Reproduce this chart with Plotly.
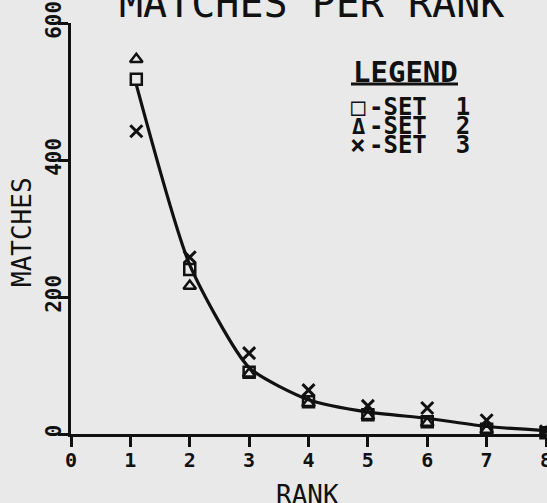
import plotly.graph_objects as go

# ---- data ----
rank_pos = [1.1, 2, 3, 4, 5, 6, 7, 8]          # rank-1 points sit just right of tick 1
set1 = [518, 240, 90, 47, 28, 18, 7, 2]         # squares
set2 = [547, 216, 88, 45, 26, 16, 6, 2]         # triangles
set3 = [442, 258, 118, 64, 41, 38, 20, 4]       # crosses
fit_y = [510, 247, 97, 50, 32, 23, 11, 5]       # drawn curve
x_ticks = [0, 1, 2, 3, 4, 5, 6, 7, 8]
y_ticks = [0, 200, 400, 600]

INK = "#111111"
BG = "#e9e9e9"
MONO = "DejaVu Sans Mono"

fig = go.Figure()
fig.add_trace(go.Scatter(x=rank_pos, y=fit_y, mode="lines", line=dict(color=INK, width=3.2, shape="spline", smoothing=0.6),
                         showlegend=False, cliponaxis=False))
fig.add_trace(go.Scatter(x=rank_pos, y=set1, mode="markers", name="SET 1", cliponaxis=False,
                         marker=dict(symbol="square-open", size=11, color=INK, line=dict(width=2.5, color=INK))))
fig.add_trace(go.Scatter(x=rank_pos, y=set2, mode="markers", name="SET 2", cliponaxis=False,
                         marker=dict(symbol="triangle-up-open", size=11, color=INK, line=dict(width=2.5, color=INK))))
fig.add_trace(go.Scatter(x=rank_pos, y=set3, mode="markers", name="SET 3", cliponaxis=False,
                         marker=dict(symbol="x-thin", size=12, color=INK, line=dict(width=3, color=INK))))

W, H = 547, 503
L, R, T, B = 71, 1, 23, 69
pw, ph = W - L - R, H - T - B


def px(xp):
    return (xp - L) / pw


def py(yp):
    return (H - B - yp) / ph


ann = []
ann.append(dict(text="MATCHES PER RANK", x=px(311), y=py(3), xref="paper", yref="paper",
                xanchor="center", yanchor="middle", showarrow=False,
                font=dict(family=MONO, size=40, color=INK)))
ann.append(dict(text="<b>LEGEND</b>", x=px(405), y=py(72), xref="paper", yref="paper",
                xanchor="center", yanchor="middle", showarrow=False,
                font=dict(family=MONO, size=29, color=INK)))
rows = [("□", "SET 1", 107, 24), ("Δ", "SET 2", 126, 22), ("×", "SET 3", 145, 26)]
for sym, lab, yc, ssz in rows:
    ann.append(dict(text="<b>" + sym + "</b>", x=px(358), y=py(yc), xref="paper", yref="paper",
                    xanchor="center", yanchor="middle", showarrow=False,
                    font=dict(family=MONO, size=ssz, color=INK)))
    ann.append(dict(text="<b>-" + lab.replace(" ", "\u00a0\u00a0") + "</b>", x=px(367), y=py(yc),
                    xref="paper", yref="paper", xanchor="left", yanchor="middle", showarrow=False,
                    font=dict(family=MONO, size=24, color=INK)))
ann.append(dict(text="RANK", x=px(307), y=py(495), xref="paper", yref="paper",
                xanchor="center", yanchor="middle", showarrow=False,
                font=dict(family=MONO, size=26, color=INK)))
ann.append(dict(text="MATCHES", x=px(22), y=py(232), xref="paper", yref="paper", textangle=-90,
                xanchor="center", yanchor="middle", showarrow=False,
                font=dict(family=MONO, size=26, color=INK)))

fig.update_layout(
    width=W, height=H, margin=dict(l=L, r=R, t=T, b=B),
    paper_bgcolor=BG, plot_bgcolor=BG, showlegend=False,
    annotations=ann,
    shapes=[dict(type="line", xref="paper", yref="paper", x0=px(351), x1=px(458), y0=py(84), y1=py(84),
                 line=dict(color=INK, width=3))],
    xaxis=dict(range=[0, 8], tickvals=x_ticks, ticktext=[str(v) for v in x_ticks], automargin=False,
               ticklabeloverflow="allow", ticklabelstandoff=-4,
               showline=True, linecolor=INK, linewidth=3, ticks="outside", ticklen=10, tickwidth=3,
               tickcolor=INK, showgrid=False, zeroline=False,
               tickfont=dict(family=MONO, size=20, color=INK, weight="bold")),
    yaxis=dict(range=[0, 600], tickvals=y_ticks, ticktext=[str(v) for v in y_ticks], tickangle=-90,
               automargin=False, ticklabeloverflow="allow", ticklabelstandoff=-11,
               showline=True, linecolor=INK, linewidth=3, ticks="outside", ticklen=10, tickwidth=3,
               tickcolor=INK, showgrid=False, zeroline=False,
               tickfont=dict(family=MONO, size=21, color=INK, weight="bold")),
)

fig.write_html("out.html", config={"displayModeBar": False},
               post_script="document.body.style.margin='0';document.body.style.overflow='hidden';"
                           "document.body.style.background='" + BG + "';")
